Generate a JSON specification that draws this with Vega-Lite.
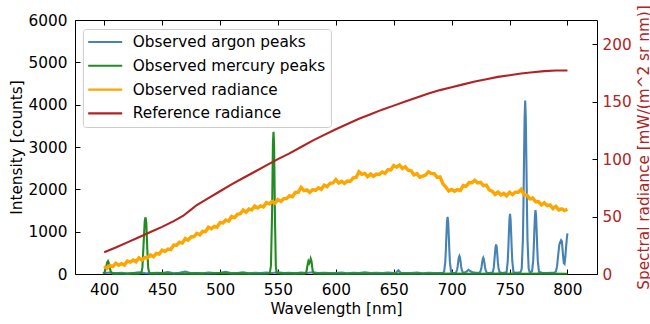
{
  "$schema": "https://vega.github.io/schema/vega-lite/v6.json",
  "width": 522,
  "height": 254,
  "autosize": {"type": "none"},
  "padding": {"left": 75, "top": 20, "right": 53, "bottom": 50},
  "background": "white",
  "config": {
    "font": "DejaVu Sans",
    "view": {"stroke": "black", "strokeWidth": 1},
    "axis": {
      "domain": false, "grid": false,
      "labelFont": "DejaVu Sans", "titleFont": "DejaVu Sans",
      "labelFontSize": 15.3, "titleFontSize": 15.3, "titleFontWeight": "normal",
      "labelColor": "black", "titleColor": "black",
      "tickColor": "black", "tickSize": -5, "tickWidth": 1
    }
  },
  "datasets": {
    "argon": [
      {"wl":400,"v":20},{"wl":405,"v":35},{"wl":410,"v":15},{"wl":415,"v":30},{"wl":420,"v":10},{"wl":425,"v":25},{"wl":430,"v":40},{"wl":435,"v":20},{"wl":440,"v":15},{"wl":445,"v":30},{"wl":450,"v":20},{"wl":455,"v":45},{"wl":460,"v":15},{"wl":465,"v":30},{"wl":470,"v":60},{"wl":475,"v":20},{"wl":480,"v":25},{"wl":485,"v":15},{"wl":490,"v":35},{"wl":495,"v":20},{"wl":500,"v":30},{"wl":505,"v":50},{"wl":510,"v":20},{"wl":515,"v":25},{"wl":520,"v":40},{"wl":525,"v":15},{"wl":530,"v":30},{"wl":535,"v":20},{"wl":540,"v":35},{"wl":545,"v":25},{"wl":550,"v":40},{"wl":555,"v":20},{"wl":560,"v":30},{"wl":565,"v":15},{"wl":570,"v":35},{"wl":575,"v":25},{"wl":580,"v":40},{"wl":585,"v":20},{"wl":590,"v":30},{"wl":595,"v":25},{"wl":600,"v":20},{"wl":605,"v":35},{"wl":610,"v":15},{"wl":615,"v":30},{"wl":620,"v":25},{"wl":625,"v":40},{"wl":630,"v":20},{"wl":635,"v":30},{"wl":640,"v":25},{"wl":645,"v":35},{"wl":650,"v":20},{"wl":652,"v":30},{"wl":654,"v":90},{"wl":656,"v":30},{"wl":660,"v":25},{"wl":665,"v":20},{"wl":670,"v":35},{"wl":675,"v":15},{"wl":680,"v":30},{"wl":685,"v":25},{"wl":690,"v":20},
      {"wl":692.5,"v":30},{"wl":693.5,"v":55},{"wl":694.5,"v":280},{"wl":695,"v":560},{"wl":695.5,"v":920},{"wl":696,"v":1240},{"wl":696.5,"v":1350},{"wl":697,"v":1240},{"wl":697.5,"v":920},{"wl":698,"v":560},{"wl":698.5,"v":280},{"wl":699.5,"v":55},{"wl":700.5,"v":30},
      {"wl":703,"v":25},{"wl":703.7,"v":30},{"wl":704.7,"v":100},{"wl":705.2,"v":180},{"wl":705.7,"v":290},{"wl":706.2,"v":390},{"wl":706.7,"v":425},{"wl":707.2,"v":390},{"wl":707.7,"v":290},{"wl":708.2,"v":180},{"wl":708.7,"v":100},{"wl":709.7,"v":35},
      {"wl":711,"v":30},{"wl":713,"v":60},{"wl":714.5,"v":100},{"wl":716,"v":70},{"wl":718,"v":40},{"wl":721,"v":30},
      {"wl":724.3,"v":30},{"wl":725.3,"v":95},{"wl":725.8,"v":165},{"wl":726.3,"v":265},{"wl":726.8,"v":350},{"wl":727.3,"v":385},{"wl":727.8,"v":350},{"wl":728.3,"v":265},{"wl":728.8,"v":165},{"wl":729.3,"v":95},{"wl":730.3,"v":30},
      {"wl":732,"v":25},{"wl":735.4,"v":35},{"wl":736.4,"v":150},{"wl":736.9,"v":320},{"wl":737.4,"v":480},{"wl":737.9,"v":640},{"wl":738.4,"v":700},{"wl":738.9,"v":640},{"wl":739.4,"v":470},{"wl":739.9,"v":280},{"wl":740.4,"v":150},{"wl":741.4,"v":40},
      {"wl":744,"v":25},{"wl":747.4,"v":40},{"wl":748.4,"v":290},{"wl":748.9,"v":580},{"wl":749.4,"v":950},{"wl":749.9,"v":1280},{"wl":750.4,"v":1420},{"wl":750.9,"v":1280},{"wl":751.4,"v":950},{"wl":751.9,"v":580},{"wl":752.4,"v":290},{"wl":753.4,"v":40},
      {"wl":756,"v":30},{"wl":759.5,"v":40},{"wl":760.5,"v":120},{"wl":761.5,"v":800},{"wl":762,"v":1620},{"wl":762.5,"v":2720},{"wl":763,"v":3700},{"wl":763.5,"v":4100},{"wl":764,"v":3700},{"wl":764.5,"v":2720},{"wl":765,"v":1620},{"wl":765.5,"v":800},{"wl":766.5,"v":120},{"wl":767.5,"v":40},
      {"wl":769.4,"v":60},{"wl":770.4,"v":310},{"wl":770.9,"v":620},{"wl":771.4,"v":1010},{"wl":771.9,"v":1370},{"wl":772.4,"v":1510},{"wl":772.9,"v":1370},{"wl":773.4,"v":1010},{"wl":773.9,"v":620},{"wl":774.4,"v":310},{"wl":775.4,"v":50},
      {"wl":778,"v":30},{"wl":782,"v":25},{"wl":786,"v":30},{"wl":789,"v":35},{"wl":790,"v":60},{"wl":791,"v":180},{"wl":792,"v":450},{"wl":793,"v":700},{"wl":793.8,"v":760},{"wl":794.5,"v":800},{"wl":795.2,"v":770},{"wl":796,"v":500},{"wl":796.8,"v":260},{"wl":797.5,"v":240},{"wl":798.2,"v":420},{"wl":799,"v":700},{"wl":799.6,"v":880},{"wl":800,"v":960}
    ],
    "mercury": [
      {"wl":399,"v":10},{"wl":400.5,"v":50},{"wl":401.5,"v":150},{"wl":402.5,"v":270},{"wl":403.3,"v":305},{"wl":404,"v":260},{"wl":405,"v":120},{"wl":406,"v":35},{"wl":407.5,"v":10},{"wl":410,"v":15},{"wl":415,"v":5},{"wl":420,"v":10},{"wl":425,"v":15},{"wl":430,"v":10},
      {"wl":432,"v":20},{"wl":433,"v":150},{"wl":434,"v":700},{"wl":435,"v":1250},{"wl":435.7,"v":1340},{"wl":436.4,"v":1200},{"wl":437.2,"v":600},{"wl":438,"v":140},{"wl":439,"v":20},
      {"wl":442,"v":10},{"wl":450,"v":15},{"wl":460,"v":5},{"wl":470,"v":10},{"wl":480,"v":15},{"wl":490,"v":5},{"wl":500,"v":20},{"wl":510,"v":10},{"wl":520,"v":15},{"wl":530,"v":5},{"wl":540,"v":10},
      {"wl":543,"v":15},{"wl":544,"v":200},{"wl":545,"v":1500},{"wl":545.7,"v":3100},{"wl":546.2,"v":3360},{"wl":546.7,"v":3050},{"wl":547.4,"v":1400},{"wl":548.2,"v":180},{"wl":549,"v":20},
      {"wl":555,"v":10},{"wl":565,"v":15},{"wl":573,"v":10},{"wl":574.5,"v":40},{"wl":575.5,"v":200},{"wl":576.3,"v":300},{"wl":577,"v":250},{"wl":577.6,"v":280},{"wl":578.3,"v":360},{"wl":579,"v":300},{"wl":580,"v":80},{"wl":581,"v":15},
      {"wl":590,"v":10},{"wl":600,"v":5},{"wl":620,"v":10},{"wl":640,"v":5},{"wl":660,"v":10},{"wl":680,"v":5},{"wl":700,"v":10},{"wl":720,"v":5},{"wl":740,"v":10},{"wl":760,"v":5},{"wl":780,"v":10},{"wl":800,"v":5}
    ],
    "observed": [
      {"wl":400,"v":190},{"wl":402.5,"v":135},{"wl":405,"v":200},{"wl":407.5,"v":175},{"wl":410,"v":255},{"wl":412.5,"v":205},{"wl":415,"v":245},{"wl":417.5,"v":210},{"wl":420,"v":305},{"wl":422.5,"v":280},{"wl":425,"v":330},{"wl":427.5,"v":290},{"wl":430,"v":380},{"wl":432.5,"v":330},{"wl":435,"v":390},{"wl":437.5,"v":385},
      {"wl":440,"v":450},{"wl":442.5,"v":405},{"wl":445,"v":485},{"wl":447.5,"v":470},{"wl":450,"v":565},{"wl":452.5,"v":530},{"wl":455,"v":590},{"wl":457.5,"v":575},{"wl":460,"v":685},{"wl":462.5,"v":680},{"wl":465,"v":750},{"wl":467.5,"v":730},{"wl":470,"v":840},{"wl":472.5,"v":800},{"wl":475,"v":875},{"wl":477.5,"v":885},
      {"wl":480,"v":960},{"wl":482.5,"v":925},{"wl":485,"v":1010},{"wl":487.5,"v":1000},{"wl":490,"v":1105},{"wl":492.5,"v":1070},{"wl":495,"v":1125},{"wl":497.5,"v":1105},{"wl":500,"v":1215},{"wl":502.5,"v":1205},{"wl":505,"v":1275},{"wl":507.5,"v":1250},{"wl":510,"v":1360},{"wl":512.5,"v":1330},{"wl":515,"v":1410},{"wl":517.5,"v":1425},
      {"wl":520,"v":1510},{"wl":522.5,"v":1460},{"wl":525,"v":1535},{"wl":527.5,"v":1515},{"wl":530,"v":1605},{"wl":532.5,"v":1560},{"wl":535,"v":1610},{"wl":537.5,"v":1585},{"wl":540,"v":1685},{"wl":542.5,"v":1660},{"wl":545,"v":1710},{"wl":547.5,"v":1670},{"wl":550,"v":1760},{"wl":552.5,"v":1715},{"wl":555,"v":1780},{"wl":557.5,"v":1780},
      {"wl":560,"v":1850},{"wl":562.5,"v":1825},{"wl":565,"v":1925},{"wl":567.5,"v":1930},{"wl":570,"v":2045},{"wl":572.5,"v":1970},{"wl":575,"v":1985},{"wl":577.5,"v":1925},{"wl":580,"v":1995},{"wl":582.5,"v":1975},{"wl":585,"v":2035},{"wl":587.5,"v":2000},{"wl":590,"v":2100},{"wl":592.5,"v":2065},{"wl":595,"v":2140},{"wl":597.5,"v":2150},
      {"wl":600,"v":2230},{"wl":602.5,"v":2150},{"wl":605,"v":2190},{"wl":607.5,"v":2140},{"wl":610,"v":2195},{"wl":612.5,"v":2190},{"wl":615,"v":2270},{"wl":617.5,"v":2280},{"wl":620,"v":2415},{"wl":622.5,"v":2355},{"wl":625,"v":2375},{"wl":627.5,"v":2300},{"wl":630,"v":2360},{"wl":632.5,"v":2305},{"wl":635,"v":2360},{"wl":637.5,"v":2350},
      {"wl":640,"v":2410},{"wl":642.5,"v":2375},{"wl":645,"v":2465},{"wl":647.5,"v":2460},{"wl":650,"v":2565},{"wl":652.5,"v":2525},{"wl":655,"v":2575},{"wl":657.5,"v":2490},{"wl":660,"v":2535},{"wl":662.5,"v":2450},{"wl":665,"v":2440},{"wl":667.5,"v":2340},{"wl":670,"v":2370},{"wl":672.5,"v":2285},{"wl":675,"v":2310},{"wl":677.5,"v":2335},
      {"wl":680,"v":2415},{"wl":682.5,"v":2370},{"wl":685,"v":2370},{"wl":687.5,"v":2280},{"wl":690,"v":2295},{"wl":692.5,"v":2130},{"wl":695,"v":2055},{"wl":697.5,"v":1960},{"wl":700,"v":1995},{"wl":702.5,"v":1955},{"wl":705,"v":1995},{"wl":707.5,"v":1975},{"wl":710,"v":2090},{"wl":712.5,"v":2070},{"wl":715,"v":2160},{"wl":717.5,"v":2155},
      {"wl":720,"v":2215},{"wl":722.5,"v":2150},{"wl":725,"v":2165},{"wl":727.5,"v":2085},{"wl":730,"v":2100},{"wl":732.5,"v":1985},{"wl":735,"v":1955},{"wl":737.5,"v":1880},{"wl":740,"v":1935},{"wl":742.5,"v":1870},{"wl":745,"v":1905},{"wl":747.5,"v":1845},{"wl":750,"v":1930},{"wl":752.5,"v":1875},{"wl":755,"v":1930},{"wl":757.5,"v":1930},
      {"wl":760,"v":2000},{"wl":762.5,"v":1870},{"wl":765,"v":1865},{"wl":767.5,"v":1775},{"wl":770,"v":1795},{"wl":772.5,"v":1705},{"wl":775,"v":1705},{"wl":777.5,"v":1630},{"wl":780,"v":1685},{"wl":782.5,"v":1615},{"wl":785,"v":1630},{"wl":787.5,"v":1545},{"wl":790,"v":1600},{"wl":792.5,"v":1515},{"wl":795,"v":1540},{"wl":797.5,"v":1500},{"wl":800,"v":1530}
    ],
    "reference": [
      {"wl":400,"v":19},{"wl":410,"v":23},{"wl":420,"v":27.5},{"wl":430,"v":32},{"wl":440,"v":36.5},{"wl":450,"v":41},{"wl":460,"v":46},{"wl":468,"v":50.5},{"wl":475,"v":56},{"wl":480,"v":60},{"wl":490,"v":66},{"wl":500,"v":72},{"wl":510,"v":78},{"wl":520,"v":83.5},{"wl":530,"v":89},{"wl":540,"v":94.5},{"wl":550,"v":100},{"wl":560,"v":105},{"wl":570,"v":110.5},{"wl":580,"v":116},{"wl":590,"v":121},{"wl":600,"v":126},{"wl":610,"v":130.5},{"wl":620,"v":135},{"wl":630,"v":139},{"wl":640,"v":143},{"wl":650,"v":146.5},{"wl":660,"v":150},{"wl":670,"v":153.5},{"wl":680,"v":157},{"wl":690,"v":160},{"wl":700,"v":162.5},{"wl":710,"v":165},{"wl":720,"v":167.5},{"wl":730,"v":169.5},{"wl":740,"v":171.5},{"wl":750,"v":173},{"wl":760,"v":174.5},{"wl":770,"v":175.5},{"wl":780,"v":176.5},{"wl":790,"v":177},{"wl":800,"v":177}
    ]
  },
  "layer": [
    {
      "data": {"name": "argon"},
      "mark": {"type": "line", "strokeWidth": 2.1},
      "encoding": {
        "x": {"field": "wl", "type": "quantitative",
          "scale": {"domain": [374.8, 825.5], "nice": false, "zero": false},
          "axis": {"orient": "bottom", "title": "Wavelength [nm]", "values": [400,450,500,550,600,650,700,750,800], "format": "d", "labelPadding": 13.5, "titlePadding": 4}},
        "y": {"field": "v", "type": "quantitative",
          "scale": {"domain": [0, 6000], "nice": false, "zero": true},
          "axis": {"orient": "left", "title": "Intensity [counts]", "values": [0,1000,2000,3000,4000,5000,6000], "format": "d", "labelPadding": 13, "titlePadding": 4}},
        "color": {"datum": "Observed argon peaks", "type": "nominal",
          "scale": {"domain": ["Observed argon peaks", "Observed mercury peaks", "Observed radiance", "Reference radiance"],
                    "range": ["#4682b4", "#228b22", "#ffa500", "#b22222"]},
          "legend": {"orient": "none", "legendX": 7.9, "legendY": 9, "title": null,
            "symbolType": "M-2.615,0H2.615", "symbolSize": 169, "symbolStrokeWidth": 2.1,
            "symbolOffset": 9.3, "labelOffset": 19.6, "labelFontSize": 15.3, "labelFont": "DejaVu Sans",
            "labelColor": "black", "labelLimit": 400, "rowPadding": 6.8, "padding": 5,
            "fillColor": "rgba(255,255,255,0.8)", "strokeColor": "#cccccc", "cornerRadius": 3}}
      }
    },
    {
      "data": {"name": "mercury"},
      "mark": {"type": "line", "strokeWidth": 2.1},
      "encoding": {
        "x": {"field": "wl", "type": "quantitative", "axis": null},
        "y": {"field": "v", "type": "quantitative", "scale": {"domain": [0, 6000], "nice": false}, "axis": null},
        "color": {"datum": "Observed mercury peaks", "type": "nominal"}
      }
    },
    {
      "data": {"name": "observed"},
      "mark": {"type": "line", "strokeWidth": 3.4},
      "encoding": {
        "x": {"field": "wl", "type": "quantitative", "axis": null},
        "y": {"field": "v", "type": "quantitative", "scale": {"domain": [0, 6000], "nice": false}, "axis": null},
        "color": {"datum": "Observed radiance", "type": "nominal"}
      }
    },
    {
      "data": {"name": "reference"},
      "mark": {"type": "line", "strokeWidth": 2.1},
      "encoding": {
        "x": {"field": "wl", "type": "quantitative",
          "axis": {"orient": "top", "labels": false, "title": null, "values": [400,450,500,550,600,650,700,750,800]}},
        "y": {"field": "v", "type": "quantitative",
          "scale": {"domain": [0, 221], "nice": false, "zero": true},
          "axis": {"orient": "right", "title": "Spectral radiance [mW/(m^2 sr nm)]", "values": [0,50,100,150,200], "format": "d",
            "labelColor": "#b22222", "titleColor": "#b22222", "titleAngle": 270, "titleBaseline": "top",
            "labelPadding": 10, "titlePadding": 5}},
        "color": {"datum": "Reference radiance", "type": "nominal"}
      }
    }
  ],
  "resolve": {"scale": {"y": "independent"}, "axis": {"x": "independent", "y": "independent"}}
}
